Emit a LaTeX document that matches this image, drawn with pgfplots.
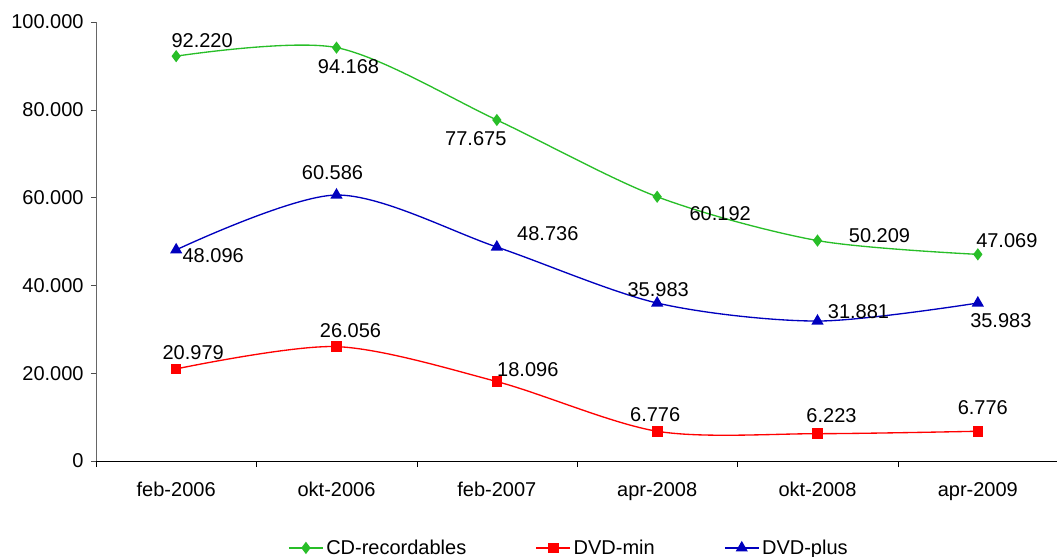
\documentclass[border=0pt]{standalone}
\usepackage{pgfplots}
\pgfplotsset{compat=1.18}
\usepackage{fontspec}
\setmainfont{Liberation Sans}
\definecolor{cdgreen}{RGB}{40,190,40}
\definecolor{dvdred}{RGB}{255,0,0}
\definecolor{dvdblue}{RGB}{0,0,190}
% data label: x, y, dx(px), dy(px, down), text
\newcommand\lbl[5]{\node[font=\fontsize{15}{17}\selectfont, inner sep=0pt,
  xshift={(#3)*0.75pt}, yshift={-(#4)*0.75pt}] at (axis cs:#1,#2) {#5};}
\begin{document}
\begin{tikzpicture}
\begin{axis}[
  scale only axis,
  width=721.5pt, height=329.25pt,
  xmin=-0.5, xmax=5.5, ymin=0, ymax=100000,
  axis lines*=left,
  x axis line style={black},
  y axis line style={draw=black!60},
  clip=false,
  xtick={0,...,5},
  xticklabels={feb-2006,okt-2006,feb-2007,apr-2008,okt-2008,apr-2009},
  minor xtick={-0.5,0.5,...,5.5},
  major x tick style={draw=none},
  minor x tick style={black},
  y tick style={black!70},
  tick align=outside,
  major tick length=3.75pt,
  minor tick length=4.5pt,
  scaled y ticks=false,
  ytick={0,20000,40000,60000,80000,100000},
  yticklabels={0,20.000,40.000,60.000,80.000,100.000},
  yticklabel style={xshift=-2pt},
  xticklabel style={yshift=-8.5pt},
  tick label style={font=\fontsize{15}{17}\selectfont},
  legend style={at={(0.492,-0.198)}, anchor=center, draw=none, legend columns=3,
    font=\fontsize{15}{17}\selectfont,
    /tikz/every even column/.append style={column sep=50pt}},
  legend image code/.code={\draw[mark repeat=2,mark phase=2] plot coordinates {(0pt,0pt) (12.75pt,0pt) (25.5pt,0pt)};},
]
\addplot[cdgreen, line width=1pt, smooth, mark=diamond*, mark size=3.8pt, mark options={solid}]
  coordinates {(0,92220) (1,94168) (2,77675) (3,60192) (4,50209) (5,47069)};
\addlegendentry{CD-recordables}
\addplot[dvdred, line width=1pt, smooth, mark=square*, mark size=3.5pt, mark options={solid}]
  coordinates {(0,20979) (1,26056) (2,18096) (3,6776) (4,6223) (5,6776)};
\addlegendentry{DVD-min}
\addplot[dvdblue, line width=1pt, smooth, mark=triangle*, mark size=4.3pt, mark options={solid}]
  coordinates {(0,48096) (1,60586) (2,48736) (3,35983) (4,31881) (5,35983)};
\addlegendentry{DVD-plus}

\lbl{0}{92220}{26}{-16}{92.220}
\lbl{1}{94168}{12}{19}{94.168}
\lbl{2}{77675}{-21}{19}{77.675}
\lbl{3}{60192}{63}{17}{60.192}
\lbl{4}{50209}{62}{-5}{50.209}
\lbl{5}{47069}{29}{-14}{47.069}

\lbl{0}{48096}{37}{6}{48.096}
\lbl{1}{60586}{-4}{-22}{60.586}
\lbl{2}{48736}{51}{-13}{48.736}
\lbl{3}{35983}{1}{-13}{35.983}
\lbl{4}{31881}{41}{-9}{31.881}
\lbl{5}{35983}{23}{18}{35.983}

\lbl{0}{20979}{17}{-16}{20.979}
\lbl{1}{26056}{14}{-16}{26.056}
\lbl{2}{18096}{31}{-12}{18.096}
\lbl{3}{6776}{-2}{-17}{6.776}
\lbl{4}{6223}{14}{-18}{6.223}
\lbl{5}{6776}{5}{-24}{6.776}
\end{axis}
\pgfresetboundingbox
\path (-72pt,-72pt) rectangle (720.75pt,345.75pt);
\end{tikzpicture}
\end{document}
